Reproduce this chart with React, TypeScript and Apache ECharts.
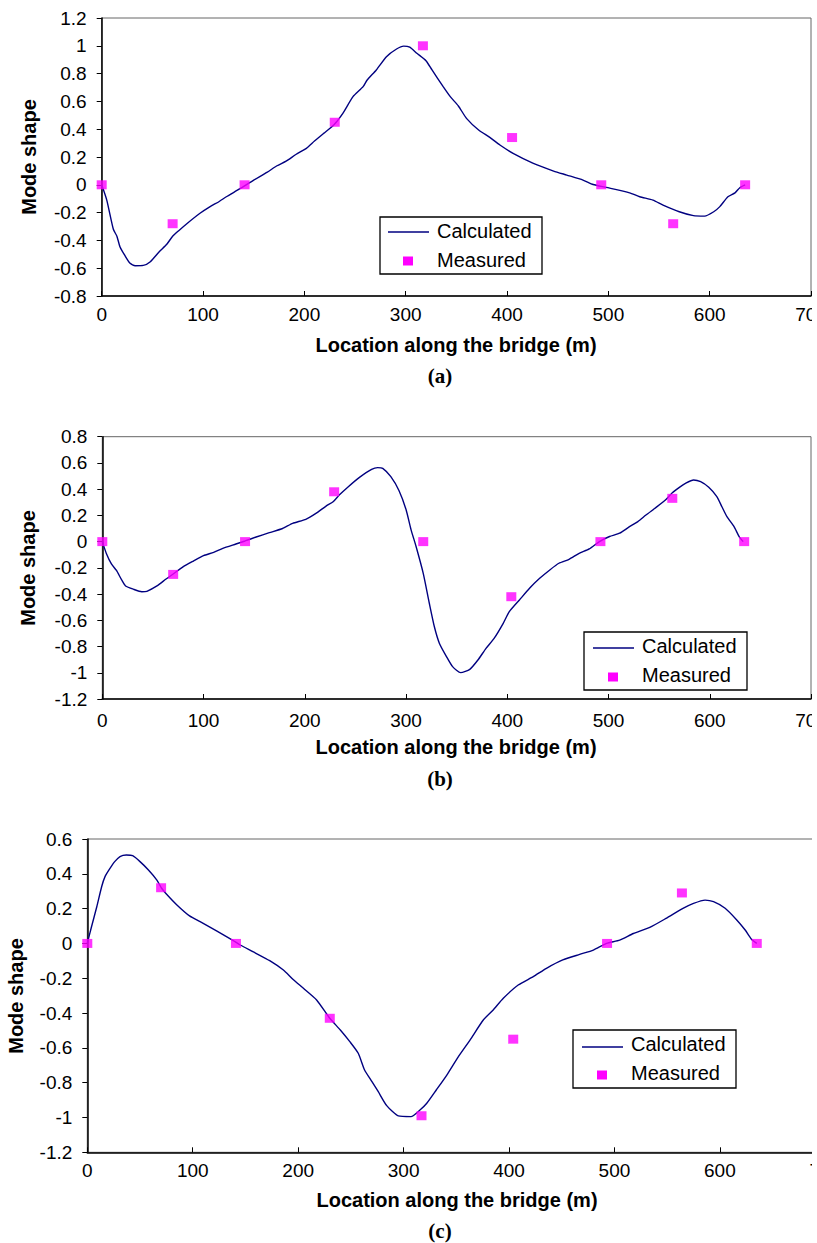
import React, { useEffect, useRef } from "react";
import * as echarts from "echarts";

// ---------- DATA ----------
const xTickMax = 700;
const xTickStep = 100;

const yRangeA = [-0.8, 1.2];
const yRangeB = [-1.2, 0.8];
const yRangeC = [-1.2, 0.6];

const calculatedA: [number, number][] = [
  [0, 0], [5, -0.11], [11.5, -0.32], [15, -0.37], [18, -0.445], [23, -0.51], [28, -0.565], [33, -0.582],
  [41, -0.58], [48, -0.553], [57, -0.48], [64, -0.43], [70, -0.37], [76, -0.33], [84, -0.28], [97, -0.205],
  [107, -0.157], [116, -0.12], [123, -0.086], [136, -0.03], [150, 0.034], [163, 0.089], [173, 0.137],
  [182, 0.17], [192, 0.22], [202, 0.262], [210, 0.315], [219, 0.37], [229, 0.43], [238, 0.514],
  [248, 0.634], [258, 0.706], [262, 0.754], [271, 0.826], [281, 0.922], [291, 0.977], [298, 0.998],
  [304, 0.99], [311, 0.946], [320, 0.893], [326, 0.826], [337, 0.706], [344, 0.634], [352, 0.567],
  [360, 0.478], [372, 0.394], [383, 0.341], [393, 0.286], [406, 0.226], [426, 0.154], [446, 0.099],
  [459, 0.07], [475, 0.034], [485, 0.002], [498, -0.019], [521, -0.058], [531, -0.086], [544, -0.11],
  [554, -0.146], [570, -0.194], [584, -0.222], [595, -0.225], [604, -0.194], [610, -0.157],
  [618, -0.086], [625, -0.058], [630, -0.019], [635, 0],
];
const measuredA: [number, number][] = [
  [0, 0], [70, -0.28], [141, 0], [230, 0.45], [317, 1.0], [405, 0.34], [493, 0], [564, -0.28], [635, 0],
];

const calculatedB: [number, number][] = [
  [0, 0], [4, -0.09], [9, -0.17], [14, -0.22], [19, -0.29], [23, -0.338], [31, -0.364], [39, -0.382],
  [44, -0.379], [54, -0.338], [63, -0.285], [70, -0.247], [80, -0.191], [90, -0.148], [100, -0.107],
  [110, -0.082], [119, -0.051], [132, -0.018], [141, 0.005], [152, 0.035], [165, 0.068], [178, 0.1],
  [188, 0.139], [201, 0.17], [211, 0.215], [221, 0.271], [228, 0.304], [234, 0.355], [243, 0.419],
  [254, 0.49], [266, 0.551], [272, 0.564], [277, 0.559], [285, 0.495], [293, 0.39], [300, 0.245],
  [305, 0.09], [310, -0.039], [317, -0.242], [323, -0.47], [328, -0.649], [333, -0.776], [340, -0.877],
  [346, -0.953], [354, -0.999], [363, -0.974], [371, -0.903], [379, -0.814], [387, -0.738],
  [396, -0.623], [402, -0.534], [412, -0.445], [422, -0.356], [432, -0.28], [442, -0.216],
  [451, -0.165], [461, -0.135], [471, -0.089], [481, -0.056], [491, 0.0], [501, 0.039], [511, 0.064],
  [520, 0.11], [529, 0.153], [537, 0.203], [547, 0.261], [557, 0.323], [563, 0.373], [570, 0.414],
  [576, 0.444], [584, 0.47], [591, 0.457], [599, 0.414], [607, 0.343], [612, 0.266], [617, 0.19],
  [624, 0.114], [629, 0.038], [633, 0.0],
];
const measuredB: [number, number][] = [
  [0, 0], [70, -0.25], [141, 0], [229, 0.38], [317, 0], [404, -0.42], [492, 0], [563, 0.33], [634, 0],
];

const calculatedC: [number, number][] = [
  [0, 0], [4, 0.096], [9, 0.211], [13.6, 0.326], [16.8, 0.384], [21.5, 0.431], [26, 0.47], [31, 0.499],
  [37, 0.508], [43, 0.504], [50, 0.47], [58, 0.422], [66, 0.364], [70.5, 0.317], [75, 0.284],
  [85, 0.221], [97, 0.158], [107, 0.125], [123, 0.071], [138.5, 0.016], [145, -0.009], [157, -0.047],
  [173, -0.099], [186, -0.153], [195, -0.206], [205, -0.258], [217.5, -0.325], [230, -0.43],
  [240, -0.497], [249, -0.564], [257, -0.631], [263, -0.727], [270, -0.794], [276, -0.852],
  [284, -0.932], [295, -0.991], [307, -0.995], [315.5, -0.957], [322, -0.918], [331, -0.842],
  [341, -0.756], [352, -0.65], [363, -0.555], [375.6, -0.44], [385, -0.382], [394.6, -0.315],
  [408.7, -0.239], [423, -0.191], [435.5, -0.143], [451, -0.095], [467, -0.063], [480, -0.038],
  [492.5, 0.0], [505, 0.019], [518, 0.057], [533.5, 0.092], [549, 0.144], [565, 0.201], [575, 0.23],
  [586, 0.249], [594, 0.24], [605, 0.202], [616, 0.135], [624, 0.077], [630, 0.024], [635, 0],
];
const measuredC: [number, number][] = [
  [0, 0], [70, 0.32], [141, 0], [230, -0.43], [317, -0.99], [404, -0.55], [493, 0], [564, 0.29], [635, 0],
];

const seriesNames = ["Calculated", "Measured"];
const xTitle = "Location along the bridge (m)";
const yTitle = "Mode shape";
const captions = ["(a)", "(b)", "(c)"];

// ---------- STYLE / LAYOUT ----------
const LINE_COLOR = "#000080";
const MARK_COLOR = "#ff00ff";
const SANS = '"Liberation Sans", Arial, Helvetica, sans-serif';
const SERIF = '"Liberation Serif", "Times New Roman", serif';

const panels = [
  {
    grid: { left: 101.7, top: 18, width: 709.3, height: 278 },
    yr: yRangeA, calc: calculatedA, meas: measuredA, labelMargin: 9,
    yTitlePos: [29, 157], xTitlePos: [456, 345], capPos: [440, 376],
    legend: { x: 380, y: 217, w: 162, h: 57, lineX: 388, lineY: 232, textX: 437, t1: 231, mx: 408, my: 261, t2: 260 },
  },
  {
    grid: { left: 102.3, top: 436.7, width: 708.7, height: 262.3 },
    yr: yRangeB, calc: calculatedB, meas: measuredB, labelMargin: 12,
    yTitlePos: [28, 568], xTitlePos: [456, 747], capPos: [440, 779],
    legend: { x: 584, y: 632, w: 163, h: 58, lineX: 593, lineY: 648, textX: 642, t1: 646, mx: 613, my: 677, t2: 675 },
  },
  {
    grid: { left: 87.3, top: 839, width: 738, height: 313.3 },
    yr: yRangeC, calc: calculatedC, meas: measuredC, labelMargin: 9,
    yTitlePos: [16, 996], xTitlePos: [457, 1200], capPos: [440, 1231],
    legend: { x: 573, y: 1030, w: 163, h: 58, lineX: 582, lineY: 1047, textX: 631, t1: 1044, mx: 602, my: 1075, t2: 1073 },
  },
];

function buildOption() {
  const grid = panels.map((p) => ({
    ...p.grid,
    show: true,
    borderColor: "#666",
    borderWidth: 1,
    backgroundColor: "transparent",
    containLabel: false,
    outerBoundsMode: "none",
  }));
  const xAxis = panels.map((p, i) => ({
    type: "value",
    gridIndex: i,
    min: 0,
    max: xTickMax,
    interval: xTickStep,
    axisLine: { show: true, onZero: false, lineStyle: { color: "#000", width: 1.5 } },
    axisTick: { show: true, inside: true, length: 5, lineStyle: { color: "#000", width: 1 } },
    axisLabel: { show: true, margin: p.labelMargin, color: "#000", fontFamily: SANS, fontSize: 19 },
    splitLine: { show: false },
  }));
  const yAxis = panels.map((p, i) => ({
    type: "value",
    gridIndex: i,
    min: p.yr[0],
    max: p.yr[1],
    interval: 0.2,
    axisLine: { show: true, onZero: false, lineStyle: { color: "#000", width: 1.5 } },
    axisTick: { show: true, inside: false, length: 5, lineStyle: { color: "#000", width: 1 } },
    axisLabel: {
      show: true, margin: 15, color: "#000", fontFamily: SANS, fontSize: 19,
      formatter: (v: number) => String(Math.round(v * 10) / 10),
    },
    splitLine: { show: false },
  }));
  const series: any[] = [];
  panels.forEach((p, i) => {
    series.push({
      name: seriesNames[0], type: "line", xAxisIndex: i, yAxisIndex: i, data: p.calc,
      symbol: "none", showSymbol: false, smooth: 0.2, z: 2,
      lineStyle: { color: LINE_COLOR, width: 1.4 },
    });
    series.push({
      name: seriesNames[1], type: "scatter", xAxisIndex: i, yAxisIndex: i, data: p.meas,
      symbol: "rect", symbolSize: [10, 9], z: 3,
      itemStyle: { color: MARK_COLOR },
    });
  });

  const graphic: any[] = [];
  panels.forEach((p, i) => {
    graphic.push({
      type: "text", x: p.yTitlePos[0], y: p.yTitlePos[1], rotation: Math.PI / 2,
      style: { text: yTitle, font: `bold 20px ${SANS}`, fill: "#000", textAlign: "center", textVerticalAlign: "middle" },
    });
    graphic.push({
      type: "text", x: p.xTitlePos[0], y: p.xTitlePos[1],
      style: { text: xTitle, font: `bold 20px ${SANS}`, fill: "#000", textAlign: "center", textVerticalAlign: "middle" },
    });
    graphic.push({
      type: "text", x: p.capPos[0], y: p.capPos[1],
      style: { text: captions[i], font: `bold 21px ${SERIF}`, fill: "#000", textAlign: "center", textVerticalAlign: "middle" },
    });
    const L = p.legend;
    graphic.push({
      type: "rect", shape: { x: L.x, y: L.y, width: L.w, height: L.h },
      style: { fill: "#fff", stroke: "#000", lineWidth: 1.3 }, z: 10,
    });
    graphic.push({
      type: "line", shape: { x1: L.lineX, y1: L.lineY, x2: L.lineX + 41, y2: L.lineY },
      style: { stroke: LINE_COLOR, lineWidth: 1.4 }, z: 11,
    });
    graphic.push({
      type: "rect", shape: { x: L.mx - 5, y: L.my - 4.5, width: 10, height: 9 },
      style: { fill: MARK_COLOR }, z: 11,
    });
    graphic.push({
      type: "text", x: L.textX, y: L.t1, z: 11,
      style: { text: seriesNames[0], font: `20px ${SANS}`, fill: "#000", textAlign: "left", textVerticalAlign: "middle" },
    });
    graphic.push({
      type: "text", x: L.textX, y: L.t2, z: 11,
      style: { text: seriesNames[1], font: `20px ${SANS}`, fill: "#000", textAlign: "left", textVerticalAlign: "middle" },
    });
  });

  return {
    animation: false,
    backgroundColor: "#fff",
    grid,
    xAxis,
    yAxis,
    series,
    graphic,
  };
}

export default function App() {
  const ref = useRef<HTMLDivElement>(null);
  useEffect(() => {
    if (!ref.current) return;
    const chart = echarts.init(ref.current, null, { renderer: "svg" });
    chart.setOption(buildOption() as any);
    return () => chart.dispose();
  }, []);
  return (
    <div
      ref={ref}
      style={{ position: "absolute", left: 0, top: 0, width: 812, height: 1243, background: "#fff" }}
    />
  );
}
